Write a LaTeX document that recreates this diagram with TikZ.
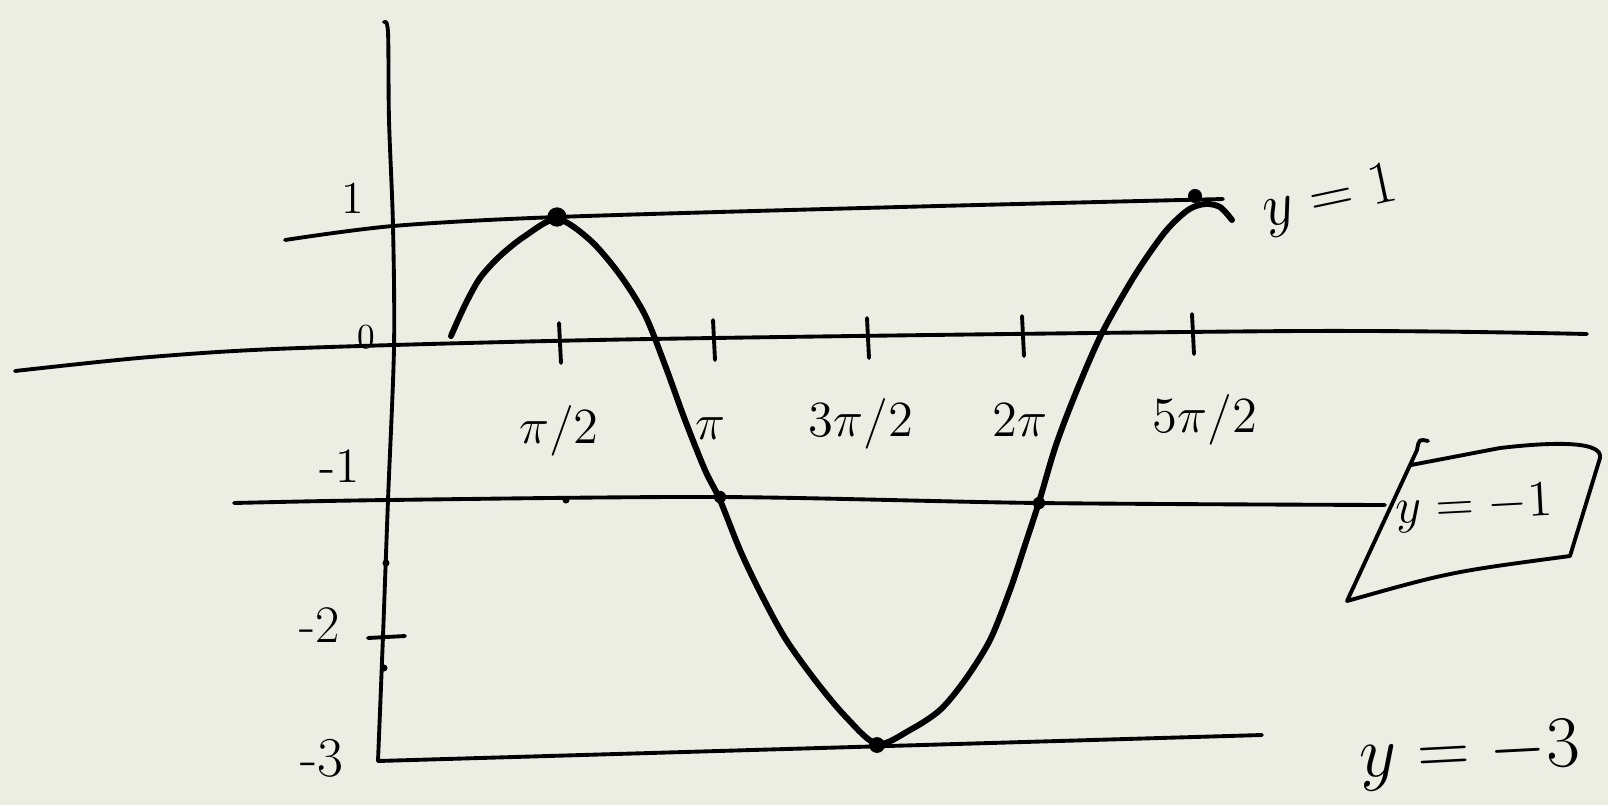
\documentclass[tikz,border=0pt]{standalone}
\usepackage{fontspec}
\usepackage{amsmath}
\usepackage{tikz}
\usetikzlibrary{positioning}
\usetikzlibrary{calc}
\definecolor{paper}{RGB}{236,237,227}

\begin{document}
\begin{tikzpicture}[x=0.01cm, y=-0.01cm, line cap=round, line join=round,
        pen/.style={line width=1.1pt},
        graph/.style={line width=1.7pt},
        blob/.style={circle, fill, inner sep=0pt, minimum size=4pt},
        speck/.style={circle, fill, inner sep=0pt, minimum size=2pt},
        hand/.style={inner sep=0pt, font=\fontsize{14}{16}\selectfont}]

    \fill[paper] (0,0) rectangle (1608,805);
    \useasboundingbox (0,0) rectangle (1608,805);

    % axes
    \coordinate (xl) at (15,371);
    \coordinate (xr) at (1587,334);
    \coordinate (ytop) at (384,22);
    \coordinate (ybot) at (378,761);
    \draw[pen] plot[smooth] coordinates {(xl) (150,357) (300,348) (650,339) (1300,331) (xr)};
    \draw[pen] plot[smooth] coordinates {(ytop) (388,32) (389,120) (393,226) (394,348) (388,500) (383,636) (ybot)};

    % level lines
    \coordinate (top l) at (285,240);
    \coordinate (top r) at (1223,199);
    \coordinate (mid l) at (234,503);
    \coordinate (mid r) at (1385,505);
    \coordinate (low r) at (1262,735);
    \draw[pen] plot[smooth] coordinates {(top l) (393,226) (557,217) (900,207) (top r)};
    \draw[pen] plot[smooth] coordinates {(mid l) (388,500) (720,497) (1039,503) (mid r)};
    \draw[pen] (ybot) -- (low r);

    % ticks on the x axis
    \foreach \tx/\ty/\lx/\ly/\lab [count=\i] in {559/341/559/431/{\pi/2}, 713/338/710/429/{\pi},
            867/336/861/424/{3\pi/2}, 1022/334/1020/420/{2\pi}, 1192/332/1205/420/{5\pi/2}} {
        \draw[pen] (\tx,\ty-18) -- (\tx+2,\ty+22);
        \node[hand] (t\i) at (\lx,\ly) {$\lab$};
    }

    % ticks on the y axis
    \draw[pen] (368,638) -- (405,636);
    \node[speck] (s1) at (386,563) {};
    \node[speck] (s2) at (384,668) {};
    \node[speck] (s3) at (566,500) {};
    \node[hand, font=\fontsize{13}{15}\selectfont] (lone) at (353,198) {1};
    \node[hand, font=\fontsize{10}{12}\selectfont] (lzero) at (366,337) {0};
    \node[hand] (lmone) at (340,466) {-1};
    \node[hand, font=\fontsize{15}{17}\selectfont] (lmtwo) at (320,625) {-2};
    \node[hand, font=\fontsize{16}{18}\selectfont] (lmthree) at (322,758) {-3};

    % the curve
    \draw[graph] plot[smooth, tension=0.5] coordinates {(451,336) (465,305) (480,278) (500,256)
        (525,236) (557,219) (590,240) (620,275) (645,315) (665,365) (685,420) (705,470) (720,500)
        (740,550) (760,592) (785,638) (815,680) (845,716) (877,744) (910,730) (940,710) (965,680)
        (990,640) (1010,590) (1025,545) (1039,502) (1056,445) (1077,390) (1102,333) (1135,275)
        (1165,232) (1188,210) (1205,204) (1220,207) (1232,220)};

    % marked points
    \node[blob, minimum size=5.5pt] (peak) at (557,217) {};
    \node[blob] (p5) at (1195,196) {};
    \node[blob, minimum size=3.5pt] (p2) at (720,497) {};
    \node[blob, minimum size=3.5pt] (p4) at (1039,503) {};
    \node[blob, minimum size=4.5pt] (p3) at (877,745) {};

    % line names
    \node[hand, font=\fontsize{18}{20}\selectfont, rotate=12] (eqtop) at (1330,200) {$y=1$};
    \draw[pen] (1428,441) .. controls (1419,439) .. (1417,450) -- (1347,601)
        .. controls (1450,572) .. (1570,556) -- (1600,458)
        .. controls (1603,442) and (1560,441) .. (1500,448) -- (1411,465);
    \node[hand, rotate=3] (eqmid) at (1474,508) {$y=-1$};
    \node[hand, font=\fontsize{22}{24}\selectfont, rotate=3] (eqbot) at (1470,755) {$y=-3$};
\end{tikzpicture}
\end{document}
